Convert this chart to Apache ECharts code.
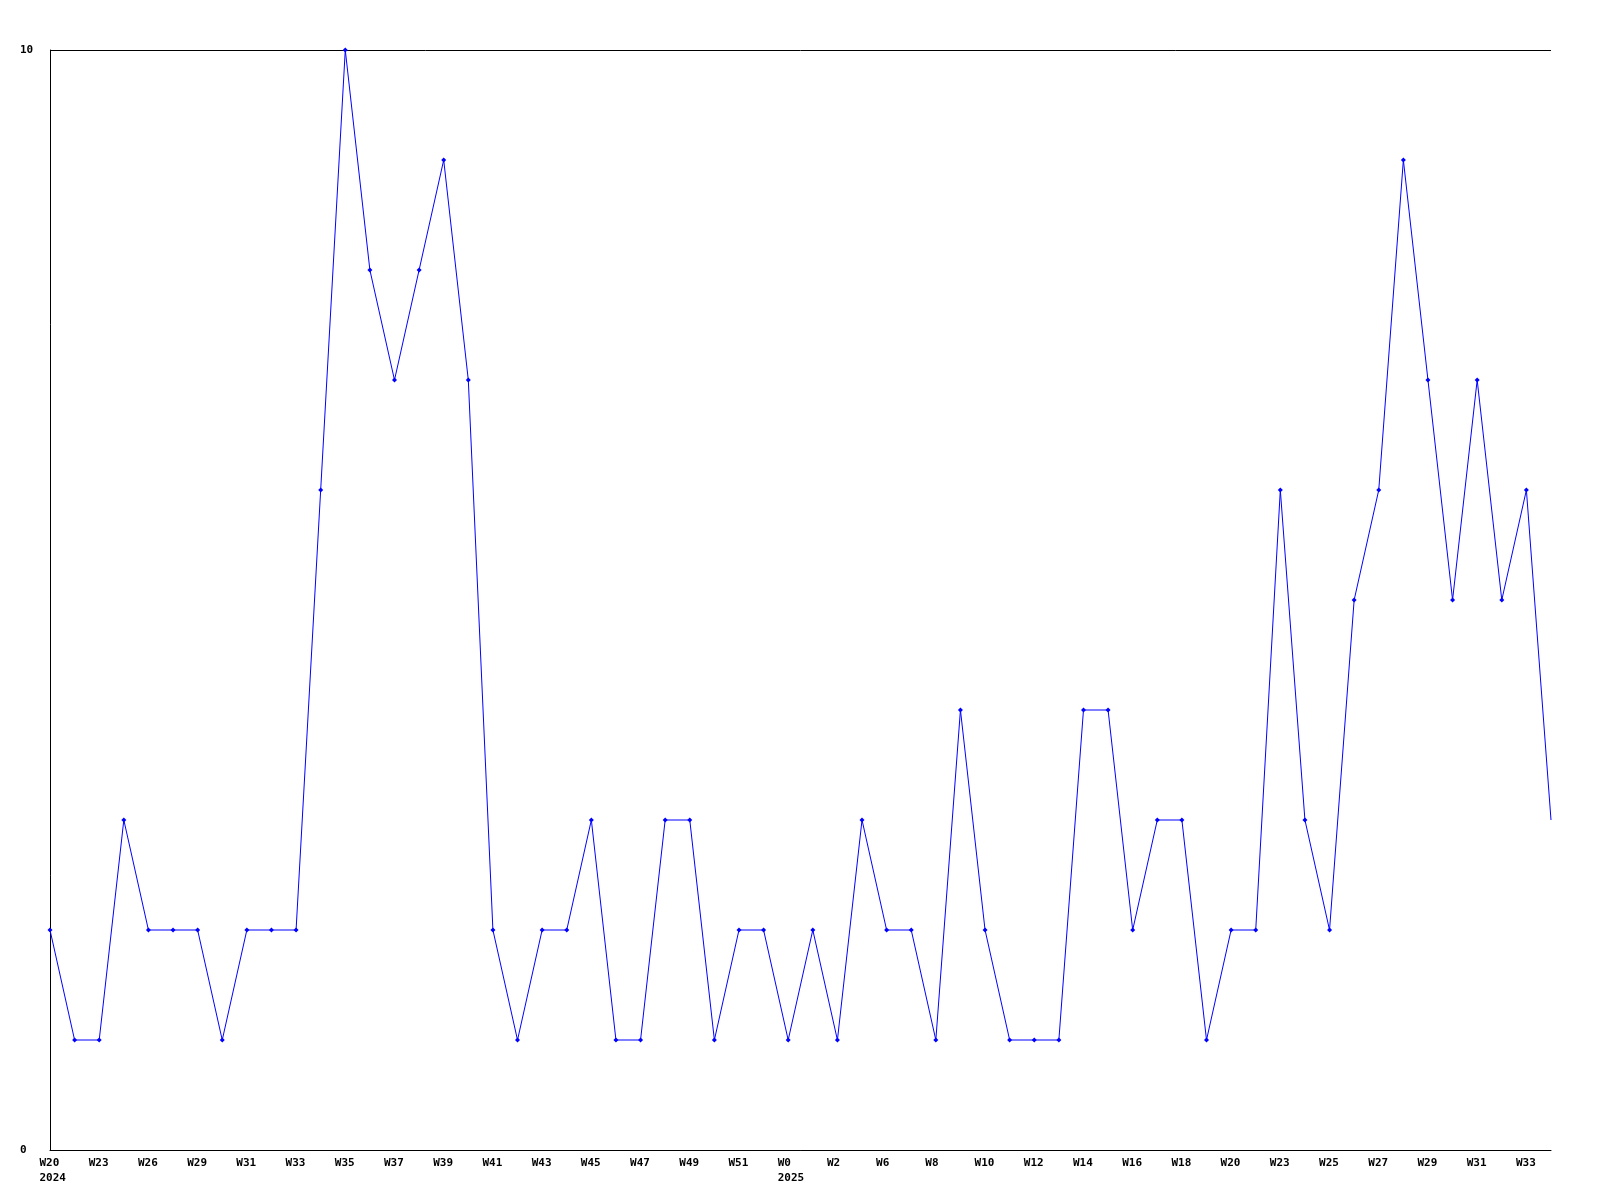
<!DOCTYPE html>
<html>
<head>
<meta charset="utf-8">
<script src="https://cdn.jsdelivr.net/npm/echarts@6/dist/echarts.min.js"></script>
<style>
html,body{margin:0;padding:0;background:#fff;}
#chart{width:1600px;height:1200px;}
</style>
</head>
<body>
<div id="chart"></div>
<script>
const weeks = ['W20','W22','W23','W25','W26','W28','W29','W30','W31','W32','W33','W34','W35','W36','W37','W38','W39','W40','W41','W42','W43','W44','W45','W46','W47','W48','W49','W50','W51','W52','W0','W1','W2','W4','W6','W7','W8','W9','W10','W11','W12','W13','W14','W15','W16','W17','W18','W19','W20','W22','W23','W24','W25','W26','W27','W28','W29','W30','W31','W32','W33','W34'];
const years = {0:'2024', 30:'2025'};
const counts = [2,1,1,3,2,2,2,1,2,2,2,6,10,8,7,8,9,7,2,1,2,2,3,1,1,3,3,1,2,2,1,2,1,3,2,2,1,4,2,1,1,1,4,4,2,3,3,1,2,2,6,3,2,5,6,9,7,5,7,5,6,3];
const yTicks = [0, 10];

const font = {fontFamily:'DejaVu Sans Mono', fontWeight:'bold', fontSize:11, color:'#000'};
const chart = echarts.init(document.getElementById('chart'), null, {renderer:'canvas'});
const last = counts.length - 1;
chart.setOption({
  backgroundColor:'#fff',
  animation:false,
  grid:{left:50, right:49, top:50, bottom:50},
  xAxis:{
    type:'category', data:weeks, boundaryGap:false,
    axisLine:{lineStyle:{color:'#000', width:1}},
    axisTick:{show:false},
    splitLine:{show:false},
    axisLabel:{
      interval:1, margin:6,
      ...font,
      padding:[0,0,0,7],
      formatter:(v, i) => '{w|' + v + '}' + (years[i] ? '\n{w|' + years[i] + '}' : ''),
      rich:{w:{...font, width:28, align:'left', lineHeight:15}}
    }
  },
  yAxis:{
    type:'value', min:yTicks[0], max:yTicks[1], interval:10,
    axisLine:{show:true, lineStyle:{color:'#000', width:1}},
    axisTick:{show:false},
    splitLine:{show:true, lineStyle:{color:'#000', width:1}},
    axisLabel:{align:'left', margin:30, ...font}
  },
  series:[{
    type:'line', data:counts,
    symbol:(v, p) => p.dataIndex === last ? 'none' : 'diamond',
    symbolSize:5, showSymbol:true,
    lineStyle:{color:'#0000ff', width:1},
    itemStyle:{color:'#0000ff'}
  }]
});
</script>
</body>
</html>
